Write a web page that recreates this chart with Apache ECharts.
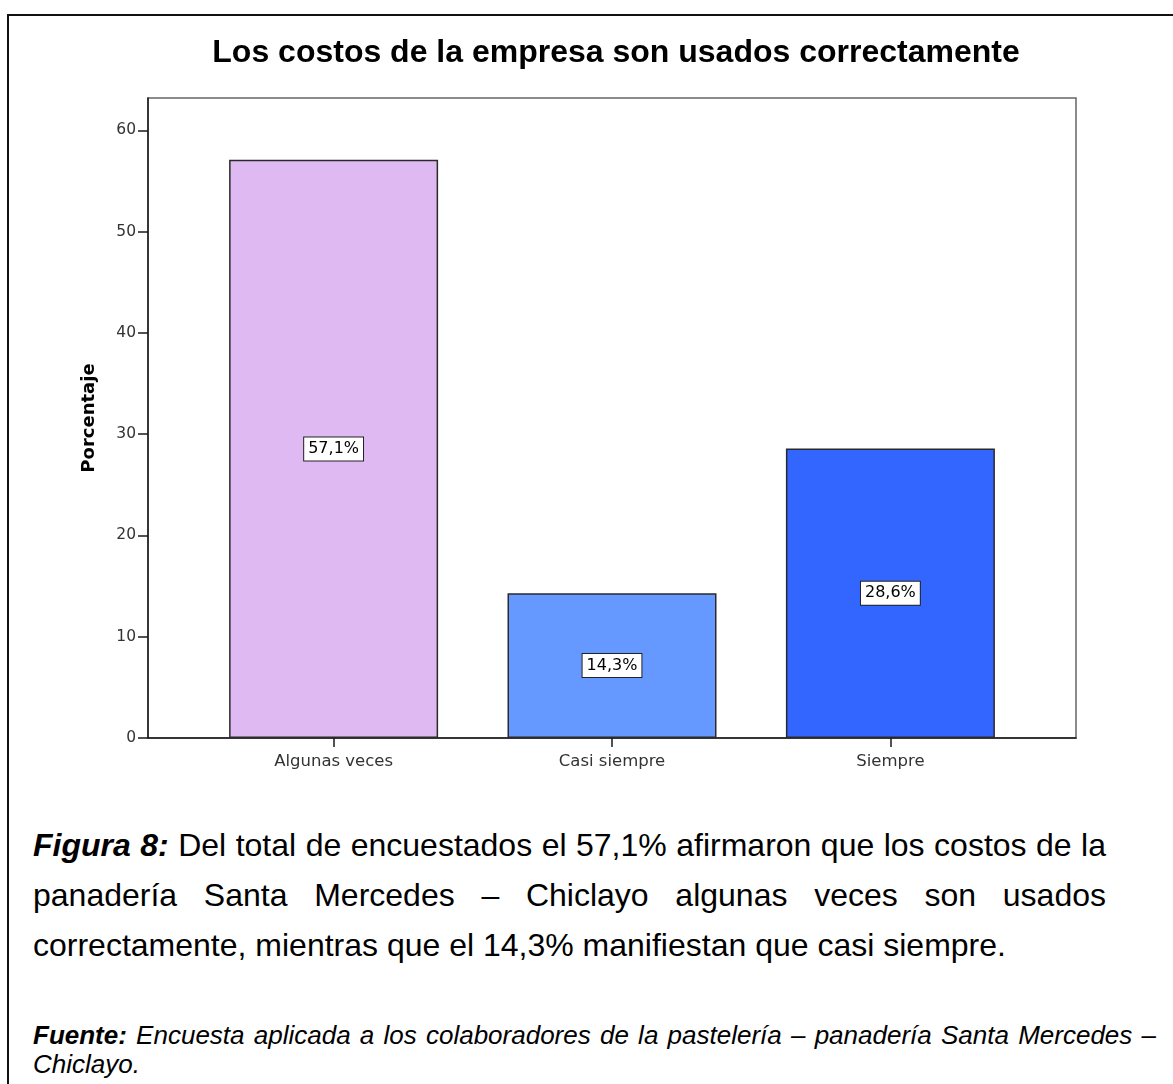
<!DOCTYPE html>
<html>
<head>
<meta charset="utf-8">
<title>Los costos de la empresa son usados correctamente</title>
<script src="https://cdn.jsdelivr.net/npm/echarts@6/dist/echarts.min.js"></script>
<style>
  html, body { margin: 0; padding: 0; background: #fff; }
  #page { position: relative; width: 1173px; height: 1084px; overflow: hidden; background: #fff; }
  #frame { position: absolute; left: 7px; top: 14px; width: 1300px; height: 1300px;
           border-top: 2px solid #111; border-left: 2px solid #111; }
  #chart { position: absolute; left: 0; top: 0; width: 1173px; height: 800px; }
  .caption { position: absolute; left: 33px; top: 820px; width: 1073px;
             font-family: "Liberation Sans", Arial, sans-serif; font-size: 32px; line-height: 50px;
             text-align: justify; color: #000; margin: 0; }
  .source { position: absolute; left: 33px; top: 1021px; width: 1123px;
            font-family: "Liberation Sans", Arial, sans-serif; font-size: 26px; line-height: 29px;
            font-style: italic; text-align: justify; color: #000; margin: 0; }
</style>
</head>
<body>
<div id="page">
  <div id="frame"></div>
  <div id="chart"></div>
  <p class="caption"><b><i>Figura 8:</i></b> Del total de encuestados el 57,1% afirmaron que los costos de la panadería Santa Mercedes – Chiclayo algunas veces son usados correctamente, mientras que el 14,3% manifiestan que casi siempre.</p>
  <p class="source"><b>Fuente:</b> Encuesta aplicada a los colaboradores de la pastelería – panadería Santa Mercedes – Chiclayo.</p>
</div>
<script>
// Survey answers and the share of respondents for each one
const categories = ['Algunas veces', 'Casi siempre', 'Siempre'];
const percentages = [57.1, 14.3, 28.6];
const barColors = ['#DFB9F2', '#6699FF', '#3366FF'];
const yTicks = [0, 10, 20, 30, 40, 50, 60];
const chartTitle = 'Los costos de la empresa son usados correctamente';
const yAxisName = 'Porcentaje';

const categoryPositions = categories.map((_, i) => i);
const axisFont = 'DejaVu Sans';

const chart = echarts.init(document.getElementById('chart'), null, { renderer: 'canvas' });

chart.setOption({
  backgroundColor: 'transparent',
  animation: false,
  title: {
    text: chartTitle,
    left: 616,
    top: 37,
    padding: 0,
    textAlign: 'center',
    textStyle: { fontFamily: 'Liberation Sans', fontWeight: 'bold', fontSize: 32, color: '#000' }
  },
  grid: {
    left: 148, right: 97, top: 98, bottom: 62,
    show: true, borderColor: '#666', borderWidth: 1.5, backgroundColor: '#fff'
  },
  xAxis: {
    type: 'value',
    min: -2 / 3,
    max: 8 / 3,
    splitLine: { show: false },
    axisLine: { show: true, onZero: false, lineStyle: { color: '#1a1a1a', width: 1.5 } },
    axisTick: {
      show: true, length: 9, customValues: categoryPositions,
      lineStyle: { color: '#1a1a1a', width: 1.5 }
    },
    axisLabel: {
      show: true, margin: 15, customValues: categoryPositions,
      formatter: v => categories[Math.round(v)] || '',
      fontFamily: axisFont, fontSize: 16.5, color: '#333'
    }
  },
  yAxis: {
    type: 'value',
    min: 0,
    max: 63.2,
    interval: 10,
    name: yAxisName,
    nameLocation: 'middle',
    nameGap: 50,
    nameTextStyle: { fontFamily: axisFont, fontWeight: 'bold', fontSize: 18, color: '#000' },
    splitLine: { show: false },
    axisLine: { show: true, onZero: false, lineStyle: { color: '#1a1a1a', width: 1.5 } },
    axisTick: {
      show: true, length: 10, customValues: yTicks,
      lineStyle: { color: '#1a1a1a', width: 1.5 }
    },
    axisLabel: {
      margin: 12, customValues: yTicks,
      fontFamily: axisFont, fontSize: 15.5, color: '#333'
    }
  },
  series: [{
    type: 'bar',
    barWidth: 209,
    data: percentages.map((v, i) => ({
      value: [categoryPositions[i], v],
      itemStyle: { color: barColors[i] }
    })),
    itemStyle: { borderColor: '#2a2a2a', borderWidth: 1.5 },
    label: {
      show: true,
      position: 'inside',
      formatter: p => p.value[1].toFixed(1).replace('.', ',') + '%',
      fontFamily: axisFont,
      fontSize: 16,
      color: '#000',
      backgroundColor: '#fff',
      borderColor: '#222',
      borderWidth: 1,
      padding: [4, 4, 3, 4]
    }
  }]
});
</script>
</body>
</html>
